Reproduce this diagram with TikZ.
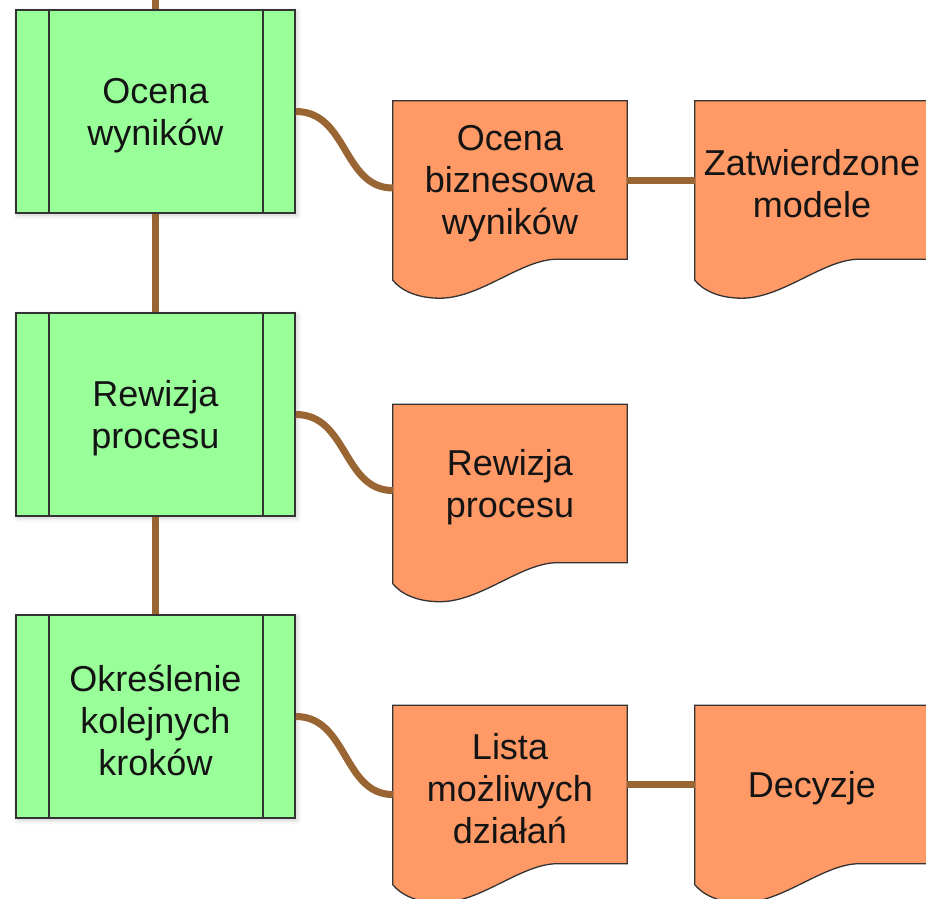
\documentclass[tikz,border=0pt]{standalone}
\usepackage{fontspec}
\setmainfont{Liberation Sans}
\usetikzlibrary{shadows.blur}

\definecolor{zielony}{HTML}{99FF99}
\definecolor{pomarancz}{HTML}{FF9966}
\definecolor{laczenie}{HTML}{996633}
\definecolor{obrys}{HTML}{333333}
\definecolor{napis}{HTML}{141414}

\pgfdeclarelayer{tlo}
\pgfsetlayers{tlo,main}

\newcommand\tekst{\fontsize{36}{42}\selectfont}

\tikzset{
  krok/.style={rectangle, draw=obrys, line width=1.6pt, fill=zielony,
    minimum width=279pt, minimum height=203pt, inner sep=0pt,
    blur shadow={shadow xshift=2pt, shadow yshift=-2pt,
      shadow blur radius=5pt, shadow opacity=20}},
  dok/.style={rectangle, minimum width=234pt, minimum height=158pt,
    inner sep=0pt},
  opis/.style={inner sep=0pt, align=center, font=\tekst, text=napis},
  doklinia/.style={draw=obrys, line width=1.3pt, fill=pomarancz},
  lacznik/.style={draw=laczenie, line width=7pt},
}

% orange document symbol: rectangle with a wavy lower edge
\newcommand\dokument[1]{%
  \begin{pgfonlayer}{tlo}
  \path[doklinia] (#1.north west) -- (#1.north east) -- (#1.south east)
    -- ([xshift=-70pt]#1.south east)
    .. controls ([xshift=-106pt]#1.south east)
       and ([xshift=88pt,yshift=-39pt]#1.south west)
    .. ([xshift=47pt,yshift=-39pt]#1.south west)
    .. controls ([xshift=24pt,yshift=-39pt]#1.south west)
       and ([xshift=8pt,yshift=-31pt]#1.south west)
    .. ([yshift=-21pt]#1.south west)
    -- cycle;
  \end{pgfonlayer}}

% the two inner vertical bars of a process step
\newcommand\paski[1]{%
  \draw[obrys, line width=1.6pt]
    ([xshift=34pt]#1.north west) -- ([xshift=34pt]#1.south west)
    ([xshift=-33pt]#1.north east) -- ([xshift=-33pt]#1.south east);}

\begin{document}
\begin{tikzpicture}[x=1pt, y=-1pt]
  \useasboundingbox (0,0) rectangle (926,898);

  % process steps
  \node[krok] (k1) at (155.5,111.5) {};
  \node[krok] (k2) at (155.5,414.5) {};
  \node[krok] (k3) at (155.5,716.5) {};
  \paski{k1}\paski{k2}\paski{k3}
  \node[opis] (tk1) at ([yshift=-4pt]k1.center) {Ocena\\wyników};
  \node[opis] (tk2) at ([yshift=-4pt]k2.center) {Rewizja\\procesu};
  \node[opis] (tk3) at ([yshift=-4pt]k3.center) {Określenie\\kolejnych\\kroków};

  % documents
  \node[dok] (d1) at (510,180) {};
  \node[dok] (d2) at (812,180) {};
  \node[dok] (d3) at (510,483.5) {};
  \node[dok] (d4) at (510,784.5) {};
  \node[dok] (d5) at (812,784.5) {};
  \dokument{d1}\dokument{d2}\dokument{d3}\dokument{d4}\dokument{d5}
  \node[opis] (td1) at ([yshift=-4pt]d1.center) {Ocena\\biznesowa\\wyników};
  \node[opis] (td2) at ([yshift=-4pt]d2.center) {Zatwierdzone\\modele};
  \node[opis] (td3) at ([yshift=-4pt]d3.center) {Rewizja\\procesu};
  \node[opis] (td4) at ([yshift=-4pt]d4.center) {Lista\\możliwych\\działań};
  \node[opis] (td5) at ([yshift=-4pt]d5.center) {Decyzje};

  % connectors
  \coordinate (wejscie) at (155.5,-6);
  \draw[lacznik] (wejscie) -- (k1.north);
  \draw[lacznik] (k1.south) -- (k2.north);
  \draw[lacznik] (k2.south) -- (k3.north);

  \draw[lacznik] (k1.east) .. controls +(52,0) and +(-50,0) .. ([yshift=-8pt]d1.west);
  \draw[lacznik] (k2.east) .. controls +(52,0) and +(-50,0) .. ([yshift=-7pt]d3.west);
  \draw[lacznik] (k3.east) .. controls +(52,0) and +(-50,0) .. ([yshift=-10pt]d4.west);

  \draw[lacznik] (d1.east) -- (d2.west);
  \draw[lacznik] (d4.east) -- (d5.west);
\end{tikzpicture}
\end{document}
